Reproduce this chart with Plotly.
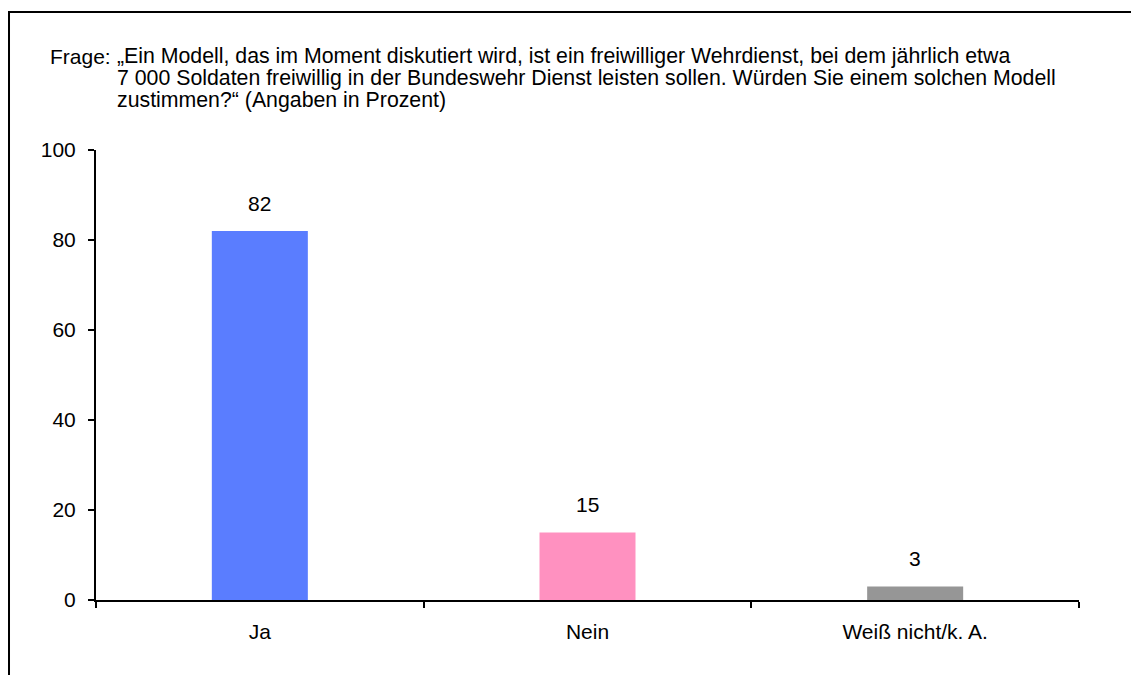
import plotly.graph_objects as go

categories = ["Ja", "Nein", "Weiß nicht/k. A."]
values = [82, 15, 3]
colors = ["#5A7DFF", "#FF91C0", "#969696"]
y_ticks = [0, 20, 40, 60, 80, 100]

question_label = "Frage:"
question_lines = [
    "„Ein Modell, das im Moment diskutiert wird, ist ein freiwilliger Wehrdienst, bei dem jährlich etwa",
    "7 000 Soldaten freiwillig in der Bundeswehr Dienst leisten sollen. Würden Sie einem solchen Modell",
    "zustimmen?“ (Angaben in Prozent)",
]

FONT = "Liberation Sans, Arial, sans-serif"
FS = 21
W, H = 1131, 675
L, T = 96, 150
R = W - 1079
B = H - 600
pw, ph = W - L - R, H - T - B

def px_x(x):
    return (x - L) / pw

def px_y(y):
    return (H - B - y) / ph

fig = go.Figure()
fig.add_trace(go.Bar(
    x=categories, y=values, marker=dict(color=colors, line=dict(width=0)),
    showlegend=False, hoverinfo="skip",
))

annotations = []
for c, v in zip(categories, values):
    annotations.append(dict(x=c, y=v, xref="x", yref="y", text=str(v), showarrow=False,
                            yshift=28, font=dict(family=FONT, size=FS, color="black")))

annotations.append(dict(x=px_x(48), y=px_y(56), xref="paper", yref="paper", text=question_label,
                        showarrow=False, xanchor="left", yanchor="middle",
                        font=dict(family=FONT, size=FS, color="black")))
for i, line in enumerate(question_lines):
    annotations.append(dict(x=px_x(115), y=px_y(56 + 22 * i), xref="paper", yref="paper", text=line,
                            showarrow=False, xanchor="left", yanchor="middle",
                            font=dict(family=FONT, size=21.3, color="black")))

frame_path = "M {:.5f},{:.5f} L {:.5f},{:.5f} L {:.5f},{:.5f}".format(
    px_x(9), px_y(700), px_x(9), px_y(12), px_x(1160), px_y(12))

fig.update_layout(
    width=W, height=H,
    margin=dict(l=L, r=R, t=T, b=B, autoexpand=False),
    paper_bgcolor="white", plot_bgcolor="white",
    bargap=0.707,
    font=dict(family=FONT, size=FS, color="black"),
    annotations=annotations,
    shapes=[dict(type="path", xref="paper", yref="paper", path=frame_path,
                 line=dict(color="black", width=2), fillcolor="rgba(0,0,0,0)")],
    xaxis=dict(
        type="category", range=[-0.5, 2.5], showline=True, linecolor="black", linewidth=2,
        ticks="outside", ticklen=6, tickwidth=2, tickcolor="black", tickson="boundaries",
        showgrid=False, zeroline=False, ticklabelstandoff=12,
        tickfont=dict(family=FONT, size=FS, color="black"),
    ),
    yaxis=dict(
        range=[0, 100], tickvals=y_ticks, showline=True, linecolor="black", linewidth=2,
        ticks="outside", ticklen=6, tickwidth=2, tickcolor="black",
        showgrid=False, zeroline=False, ticklabelstandoff=8,
        tickfont=dict(family=FONT, size=FS, color="black"),
    ),
)

fig.write_html(
    "out.html", config={"displayModeBar": False},
    post_script=("document.documentElement.style.overflow='hidden';"
                 "document.body.style.margin='0';document.body.style.overflow='hidden';"),
)
